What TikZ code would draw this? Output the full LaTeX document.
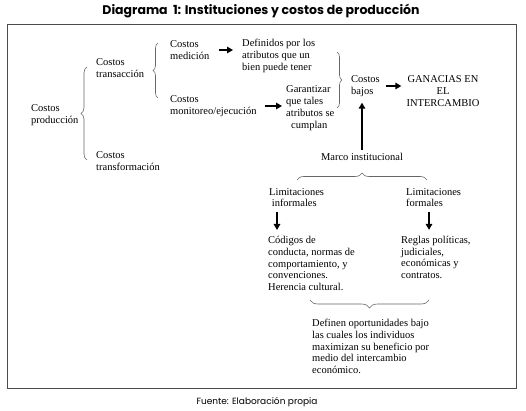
\documentclass[tikz,border=0pt]{standalone}
\usepackage{fontspec}
\setmainfont{Liberation Serif}
\newfontfamily\titlefont{Poppins}
\usetikzlibrary{arrows.meta,decorations.pathreplacing}

\begin{document}
\begin{tikzpicture}[x=1pt,y=-1pt,
    txt/.style={anchor=west, inner sep=0pt, align=left, font=\fontsize{10.5}{11.8}\selectfont},
    arr/.style={-{Triangle[length=6pt,width=6.5pt]}, line width=1.4pt},
    brc/.style={decorate, decoration={brace, amplitude=#1}, draw=black!60, line width=0.6pt},
    brc/.default=6]
    \useasboundingbox (0,0) rectangle (526,411);

    % Title, frame and source
    \node[font=\titlefont\bfseries\fontsize{12.5}{14}\selectfont] (title) at (261,11) {Diagrama\ \ 1: Instituciones y costos de producción};
    \draw[black!70, line width=1pt] (7,25) rectangle (516,388);
    \node[font=\titlefont\fontsize{9}{11}\selectfont] (fuente) at (257,402) {Fuente: Elaboración propia};

    % Left tree of costs
    \node[txt] (prod) at (31,115) {Costos\\producción};
    \node[txt] (trans) at (96,68) {Costos\\transacción};
    \node[txt] (transf) at (96,161) {Costos\\transformación};
    \node[txt] (medic) at (170,50) {Costos\\medición};
    \node[txt] (monit) at (170,106) {Costos\\monitoreo/ejecución};
    \draw[brc] (87,160) -- (87,67);
    \draw[brc=5] (158,98) -- (158,43);

    % Middle column
    \node[txt] (defin) at (242,56) {Definidos por los\\atributos que un\\bien puede tener};
    \node[txt] (garant) at (286,108) {Garantizar\\que tales\\atributos se\\\hspace*{5pt}cumplan};
    \draw[brc=5] (337,52) -- (337,108);
    \node[txt] (bajos) at (351,86) {Costos\\bajos};
    \node[txt, align=center, anchor=center] (ganan) at (443,91) {GANACIAS EN\\EL\\INTERCAMBIO};

    \draw[arr, shorten <=10pt, shorten >=9pt] (medic.east) -- (medic.east -| defin.west);
    \draw[arr, shorten <=8pt, shorten >=4pt] (monit.east) -- (monit.east -| garant.west);
    \draw[arr, shorten <=6pt, shorten >=5pt] (bajos.east) -- (bajos.east -| ganan.west);

    % Institutional frame
    \node[txt, anchor=center] (marco) at (362,157) {Marco institucional};
    \draw[arr, shorten <=3pt, shorten >=6pt] (marco.north) -- (marco.north |- bajos.south);
    \draw[brc=7] (297,180) -- (427,180);

    \node[txt] (linf) at (269,197.5) {Limitaciones\\\ informales};
    \node[txt] (lform) at (406,197.5) {Limitaciones\\formales};
    \node[txt] (codig) at (268,263.5) {Códigos de\\conducta, normas de\\comportamiento, y\\convenciones.\\Herencia cultural.};
    \node[txt] (reglas) at (401,257.5) {Reglas políticas,\\judiciales,\\económicas y\\contratos.};
    \draw[arr, shorten <=5pt, shorten >=6pt] ([xshift=8pt]linf.south west) -- ([xshift=9pt]codig.north west);
    \draw[arr, shorten <=5pt, shorten >=6pt] ([xshift=23pt]lform.south west) -- ([xshift=28pt]reglas.north west);

    \draw[brc=8] (429,300) -- (310,300);
    \node[txt] (definen) at (312,346.5) {Definen oportunidades bajo\\las cuales los individuos\\maximizan su beneficio por\\medio del intercambio\\económico.};
\end{tikzpicture}
\end{document}
